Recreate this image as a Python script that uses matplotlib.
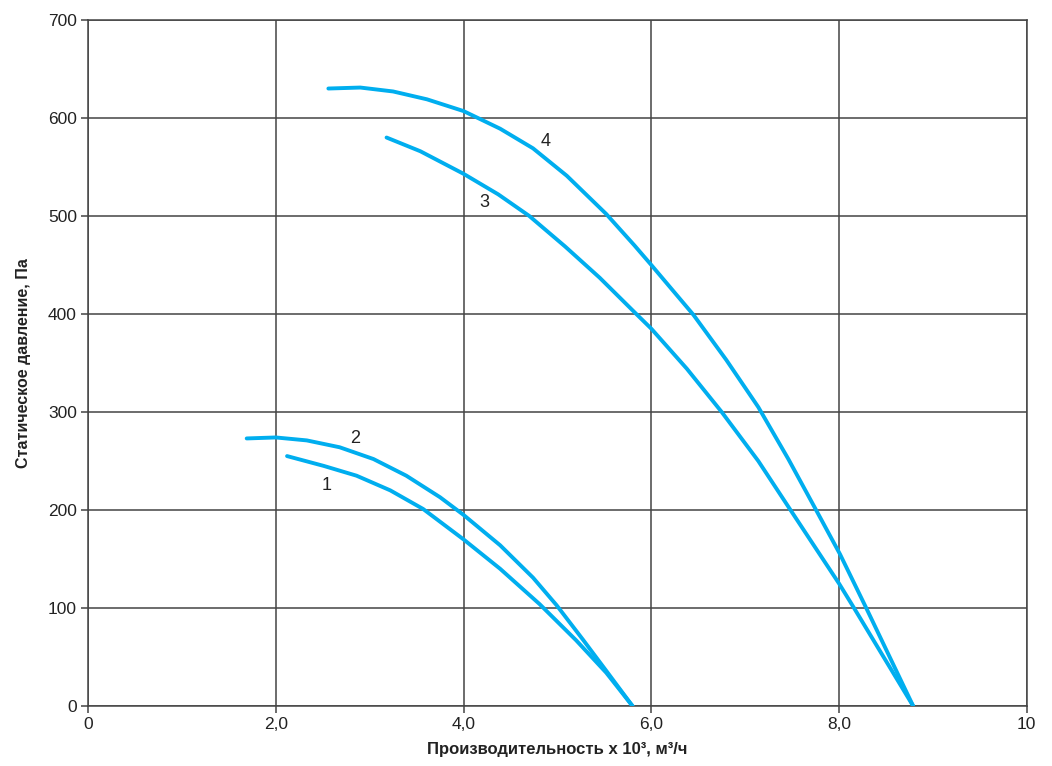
import matplotlib
matplotlib.use("Agg")
import matplotlib.pyplot as plt

plt.rcParams['font.family'] = ['Liberation Sans', 'DejaVu Sans']

# curves
x1 = [2.12, 2.51, 2.86, 3.22, 3.57, 4.0, 4.39, 4.81, 5.20, 5.52, 5.80]
y1 = [255, 245, 235, 220, 201, 170, 140, 104, 67, 34, 0]

x2 = [1.69, 2.0, 2.33, 2.68, 3.04, 3.39, 3.75, 4.0, 4.39, 4.74, 4.99, 5.27, 5.52, 5.80]
y2 = [273, 274, 271, 264, 252, 235, 213, 195, 164, 131, 103, 68, 36, 0]

x3 = [3.18, 3.54, 4.0, 4.37, 4.70, 5.08, 5.45, 5.84, 6.0, 6.38, 6.75, 7.14, 7.49, 8.0, 8.16, 8.79]
y3 = [580, 566, 543, 522, 500, 469, 437, 400, 385, 344, 300, 250, 199, 125, 100, 0]

x4 = [2.56, 2.90, 3.25, 3.61, 4.0, 4.39, 4.74, 5.10, 5.52, 5.82, 6.0, 6.45, 6.80, 7.14,
      7.46, 7.75, 8.01, 8.29, 8.79]
y4 = [630, 631, 627, 619, 607, 589, 569, 541, 502, 470, 450, 399, 353, 305,
      252, 201, 155, 100, 0]

curve_labels = ['1', '2', '3', '4']
label_x = [2.54, 2.85, 4.22, 4.87]
label_y = [225, 273, 514, 576]

x_ticks = [0, 2, 4, 6, 8, 10]
x_tick_labels = ['0', '2,0', '4,0', '6,0', '8,0', '10']
y_ticks = [0, 100, 200, 300, 400, 500, 600, 700]

line_color = '#00aeef'
grid_color = '#444444'

fig = plt.figure(figsize=(10.52, 7.66), dpi=100)
ax = fig.add_axes([0.0837, 0.0783, 0.8923, 0.8957])

for xs, ys in [(x1, y1), (x2, y2), (x3, y3), (x4, y4)]:
    ax.plot(xs, ys, color=line_color, lw=2.8, solid_capstyle='round',
            solid_joinstyle='round', zorder=3)

for t, tx, ty in zip(curve_labels, label_x, label_y):
    ax.text(tx, ty, t, fontsize=13, color='#222222', ha='center', va='center')

ax.set_xlim(0, 10)
ax.set_ylim(0, 700)
ax.set_xticks(x_ticks)
ax.set_xticklabels(x_tick_labels)
ax.set_yticks(y_ticks)
ax.grid(True, color=grid_color, lw=1.1)
ax.set_axisbelow(True)
for s in ax.spines.values():
    s.set_color(grid_color)
    s.set_linewidth(1.1)
ax.tick_params(direction='out', length=5, width=1.1, color=grid_color,
               labelsize=12.5, labelcolor='#222222', pad=3)

ax.set_xlabel('Производительность х 10³, м³/ч', fontsize=12, fontweight='bold',
              color='#222222', labelpad=7)
ax.set_ylabel('Статическое давление, Па', fontsize=11.5, fontweight='bold',
              color='#222222', labelpad=12)

fig.savefig('out.png', dpi=100)
